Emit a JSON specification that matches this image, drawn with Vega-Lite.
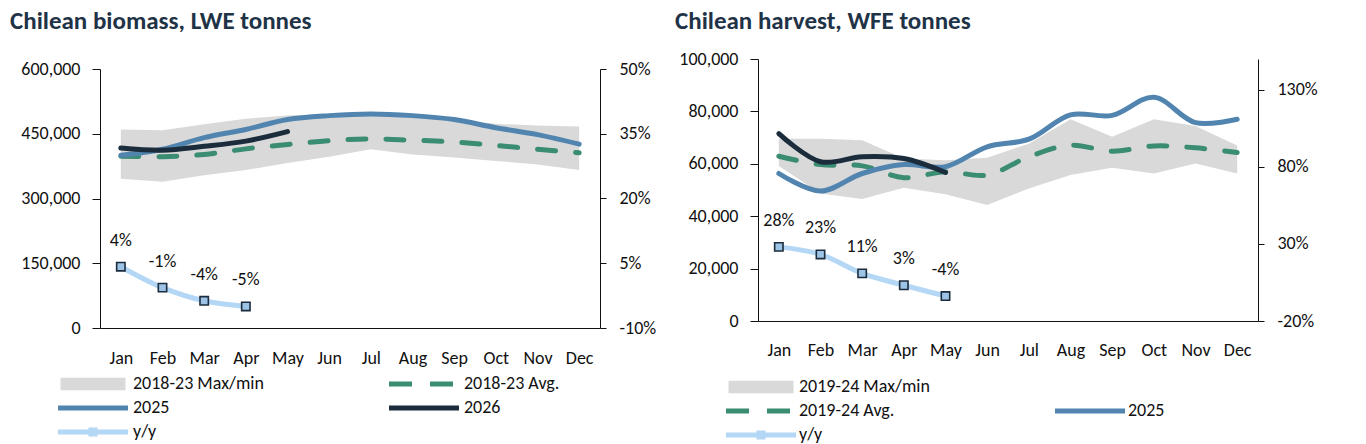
{
  "$schema": "https://vega.github.io/schema/vega-lite/v6.json",
  "padding": {"left": 10, "top": 9, "right": 0, "bottom": 0},
  "background": "white",
  "config": {
    "font": "Carlito, Lato, Liberation Sans, sans-serif",
    "view": {"stroke": null},
    "locale": {"number": {"decimal": ".", "thousands": ",", "grouping": [3], "currency": ["$", ""], "minus": "-"}},
    "axis": {"labelFont": "Carlito, Lato, Liberation Sans, sans-serif", "labelFontSize": 18, "labelColor": "#111111", "domainColor": "#111111", "tickColor": "#111111", "grid": false},
    "legend": {"labelFont": "Carlito, Lato, Liberation Sans, sans-serif", "labelFontSize": 18, "labelColor": "#111111", "padding": 0}
  },
  "hconcat": [
    {
      "width": 500,
      "height": 269,
      "title": {"text": "Chilean biomass, LWE tonnes", "anchor": "start", "frame": "group", "dx": -90, "offset": 5, "baseline": "alphabetic", "fontSize": 25, "fontWeight": "bold", "color": "#1f3347"},
      "data": {"values": [
        {"month": "Jan", "min": 346000, "max": 460000, "avg": 398000, "y2025": 400000, "y2026": 417000, "yy": 0.042},
        {"month": "Feb", "min": 339000, "max": 458000, "avg": 397000, "y2025": 414000, "y2026": 412000, "yy": -0.0065},
        {"month": "Mar", "min": 354000, "max": 472000, "avg": 402000, "y2025": 441000, "y2026": 421000, "yy": -0.037},
        {"month": "Apr", "min": 366000, "max": 485000, "avg": 415000, "y2025": 460000, "y2026": 433000, "yy": -0.05},
        {"month": "May", "min": 382000, "max": 492000, "avg": 425000, "y2025": 483000, "y2026": 455000, "yy": null},
        {"month": "Jun", "min": 397000, "max": 496000, "avg": 434000, "y2025": 492000, "y2026": null, "yy": null},
        {"month": "Jul", "min": 414000, "max": 497000, "avg": 438000, "y2025": 496000, "y2026": null, "yy": null},
        {"month": "Aug", "min": 402000, "max": 492000, "avg": 435000, "y2025": 492000, "y2026": null, "yy": null},
        {"month": "Sep", "min": 395000, "max": 483000, "avg": 431000, "y2025": 483000, "y2026": null, "yy": null},
        {"month": "Oct", "min": 387000, "max": 473000, "avg": 423000, "y2025": 464000, "y2026": null, "yy": null},
        {"month": "Nov", "min": 379000, "max": 469000, "avg": 414000, "y2025": 448000, "y2026": null, "yy": null},
        {"month": "Dec", "min": 366000, "max": 467000, "avg": 406000, "y2025": 426000, "y2026": null, "yy": null}
      ]},
      "resolve": {"scale": {"y": "independent"}},
      "layer": [
        {
          "layer": [
            {
              "mark": {"type": "area", "interpolate": "linear"},
              "encoding": {
                "x": {"field": "month", "type": "ordinal", "sort": ["Jan","Feb","Mar","Apr","May","Jun","Jul","Aug","Sep","Oct","Nov","Dec"], "scale": {"type": "point", "padding": 0.5}, "axis": {"title": null, "labelAngle": 0, "ticks": false, "tickSize": 0, "labelPadding": 21}},
                "y": {"field": "min", "type": "quantitative", "title": null, "scale": {"domain": [0, 600000], "range": [269, 10], "nice": false, "zero": false}, "axis": {"orient": "left", "values": [0, 150000, 300000, 450000, 600000], "format": ",.0f", "tickSize": 8, "labelPadding": 12}},
                "y2": {"field": "max"},
                "color": {
                  "datum": "2018-23 Max/min",
                  "scale": {"domain": ["2018-23 Max/min", "2018-23 Avg.", "2025", "2026", "y/y"], "range": ["#d9d9d9", "#3a8c72", "#5185b0", "#1b2d3c", "#b4d7f5"]},
                  "legend": {
                    "title": null, "orient": "none", "direction": "horizontal", "legendX": -42, "legendY": 315, "columns": 2, "columnPadding": 125, "rowPadding": 5,
                    "symbolSize": 400, "symbolOffset": 25, "labelOffset": 30, "labelLimit": 300, "labelFontSize": 18,
                    "symbolStrokeWidth": 0, "symbolOpacity": 1,
                    "symbolType": {"expr": "datum.value === '2018-23 Max/min' ? 'M-3.25,-0.62H3.25V0.62H-3.25Z' : datum.value === '2018-23 Avg.' ? 'M-3.5,-0.25H-1.2V0.25H-3.5Z M0.6,-0.25H2.9V0.25H0.6Z' : datum.value === 'y/y' ? 'M-3.5,-0.25H-0.45V-0.45H0.45V-0.25H3.5V0.25H0.45V0.45H-0.45V0.25H-3.5Z' : 'M-3.5,-0.24H3.5V0.24H-3.5Z'"}
                  }
                }
              }
            },
            {
              "mark": {"type": "line", "strokeWidth": 5, "strokeDash": [18, 20], "strokeCap": "round", "interpolate": "catmull-rom"},
              "encoding": {
                "x": {"field": "month", "type": "ordinal", "sort": ["Jan","Feb","Mar","Apr","May","Jun","Jul","Aug","Sep","Oct","Nov","Dec"]},
                "y": {"field": "avg", "type": "quantitative", "title": null},
                "color": {"datum": "2018-23 Avg."}
              }
            },
            {
              "mark": {"type": "line", "strokeWidth": 5, "strokeCap": "round", "interpolate": "catmull-rom"},
              "encoding": {
                "x": {"field": "month", "type": "ordinal", "sort": ["Jan","Feb","Mar","Apr","May","Jun","Jul","Aug","Sep","Oct","Nov","Dec"]},
                "y": {"field": "y2025", "type": "quantitative", "title": null},
                "color": {"datum": "2025"}
              }
            },
            {
              "mark": {"type": "line", "strokeWidth": 5, "strokeCap": "round", "interpolate": "catmull-rom"},
              "encoding": {
                "x": {"field": "month", "type": "ordinal", "sort": ["Jan","Feb","Mar","Apr","May","Jun","Jul","Aug","Sep","Oct","Nov","Dec"]},
                "y": {"field": "y2026", "type": "quantitative", "title": null},
                "color": {"datum": "2026"}
              }
            }
          ]
        },
        {
          "layer": [
            {
              "mark": {"type": "line", "strokeWidth": 5, "interpolate": "catmull-rom"},
              "encoding": {
                "x": {"field": "month", "type": "ordinal", "sort": ["Jan","Feb","Mar","Apr","May","Jun","Jul","Aug","Sep","Oct","Nov","Dec"]},
                "y": {"field": "yy", "type": "quantitative", "title": null, "scale": {"domain": [-0.1, 0.5], "range": [269, 10], "nice": false, "zero": false}, "axis": {"orient": "right", "values": [-0.1, 0.05, 0.2, 0.35, 0.5], "format": ".0%", "tickSize": 6, "labelPadding": 13}},
                "color": {"datum": "y/y"}
              }
            },
            {
              "mark": {"type": "square", "size": 70, "filled": true, "fill": "#9dc3e6", "stroke": "#1b2d3c", "strokeWidth": 1.6, "opacity": 1},
              "encoding": {
                "x": {"field": "month", "type": "ordinal", "sort": ["Jan","Feb","Mar","Apr","May","Jun","Jul","Aug","Sep","Oct","Nov","Dec"]},
                "y": {"field": "yy", "type": "quantitative", "title": null}
              }
            },
            {
              "mark": {"type": "text", "dy": -26, "fontSize": 18, "color": "#111111", "baseline": "middle"},
              "encoding": {
                "x": {"field": "month", "type": "ordinal", "sort": ["Jan","Feb","Mar","Apr","May","Jun","Jul","Aug","Sep","Oct","Nov","Dec"]},
                "y": {"field": "yy", "type": "quantitative", "title": null},
                "text": {"field": "yy", "type": "quantitative", "format": ".0%"}
              }
            }
          ]
        }
      ]
    },
    {
      "width": 500,
      "height": 262,
      "title": {"text": "Chilean harvest, WFE tonnes", "anchor": "start", "frame": "group", "dx": -83, "offset": -4, "baseline": "alphabetic", "fontSize": 25, "fontWeight": "bold", "color": "#1f3347"},
      "data": {"values": [
        {"month": "Jan", "min": 59200, "max": 69600, "avg": 62900, "y2025": 56300, "y2026": 71500, "yy": 0.281},
        {"month": "Feb", "min": 48700, "max": 69600, "avg": 59700, "y2025": 49600, "y2026": 60800, "yy": 0.232},
        {"month": "Mar", "min": 46600, "max": 69000, "avg": 59200, "y2025": 56300, "y2026": 62700, "yy": 0.109},
        {"month": "Apr", "min": 50900, "max": 62000, "avg": 54700, "y2025": 59700, "y2026": 62000, "yy": 0.032},
        {"month": "May", "min": 48400, "max": 61400, "avg": 57000, "y2025": 58900, "y2026": 56700, "yy": -0.038},
        {"month": "Jun", "min": 44300, "max": 62300, "avg": 55700, "y2025": 66500, "y2026": null, "yy": null},
        {"month": "Jul", "min": 50600, "max": 67700, "avg": 62700, "y2025": 69400, "y2026": null, "yy": null},
        {"month": "Aug", "min": 55700, "max": 77000, "avg": 67100, "y2025": 78700, "y2026": null, "yy": null},
        {"month": "Sep", "min": 58500, "max": 70300, "avg": 64800, "y2025": 78500, "y2026": null, "yy": null},
        {"month": "Oct", "min": 56300, "max": 77000, "avg": 66800, "y2025": 85400, "y2026": null, "yy": null},
        {"month": "Nov", "min": 60100, "max": 74400, "avg": 66100, "y2025": 75700, "y2026": null, "yy": null},
        {"month": "Dec", "min": 56300, "max": 67000, "avg": 64300, "y2025": 77000, "y2026": null, "yy": null}
      ]},
      "resolve": {"scale": {"y": "independent"}},
      "layer": [
        {
          "layer": [
            {
              "mark": {"type": "area", "interpolate": "linear"},
              "encoding": {
                "x": {"field": "month", "type": "ordinal", "sort": ["Jan","Feb","Mar","Apr","May","Jun","Jul","Aug","Sep","Oct","Nov","Dec"], "scale": {"type": "point", "padding": 0.5}, "axis": {"title": null, "labelAngle": 0, "ticks": false, "tickSize": 0, "labelPadding": 20}},
                "y": {"field": "min", "type": "quantitative", "title": null, "scale": {"domain": [0, 100000], "nice": false, "zero": false}, "axis": {"orient": "left", "values": [0, 20000, 40000, 60000, 80000, 100000], "format": ",.0f", "tickSize": 8, "labelPadding": 12}},
                "y2": {"field": "max"},
                "color": {
                  "datum": "2019-24 Max/min",
                  "scale": {"domain": ["2019-24 Max/min", " ", "2019-24 Avg.", "2025", "y/y"], "range": ["#d9d9d9", "#ffffff", "#3a8c72", "#5185b0", "#b4d7f5"]},
                  "legend": {
                    "title": null, "orient": "none", "direction": "horizontal", "legendX": -32, "legendY": 318, "columns": 2, "columnPadding": 125, "rowPadding": 5,
                    "symbolSize": 400, "symbolOffset": 25, "labelOffset": 28, "labelLimit": 300, "labelFontSize": 18,
                    "symbolStrokeWidth": 0, "symbolOpacity": 1,
                    "symbolType": {"expr": "datum.value === '2019-24 Max/min' ? 'M-3.25,-0.62H3.25V0.62H-3.25Z' : datum.value === '2019-24 Avg.' ? 'M-3.5,-0.25H-1.2V0.25H-3.5Z M0.6,-0.25H2.9V0.25H0.6Z' : datum.value === 'y/y' ? 'M-3.5,-0.25H-0.45V-0.45H0.45V-0.25H3.5V0.25H0.45V0.45H-0.45V0.25H-3.5Z' : 'M-3.5,-0.24H3.5V0.24H-3.5Z'"}
                  }
                }
              }
            },
            {
              "mark": {"type": "line", "strokeWidth": 5, "strokeDash": [18, 20], "strokeCap": "round", "interpolate": "catmull-rom"},
              "encoding": {
                "x": {"field": "month", "type": "ordinal", "sort": ["Jan","Feb","Mar","Apr","May","Jun","Jul","Aug","Sep","Oct","Nov","Dec"]},
                "y": {"field": "avg", "type": "quantitative", "title": null},
                "color": {"datum": "2019-24 Avg."}
              }
            },
            {
              "mark": {"type": "line", "strokeWidth": 5, "strokeCap": "round", "interpolate": "catmull-rom"},
              "encoding": {
                "x": {"field": "month", "type": "ordinal", "sort": ["Jan","Feb","Mar","Apr","May","Jun","Jul","Aug","Sep","Oct","Nov","Dec"]},
                "y": {"field": "y2025", "type": "quantitative", "title": null},
                "color": {"datum": "2025"}
              }
            },
            {
              "mark": {"type": "line", "strokeWidth": 5, "strokeCap": "round", "interpolate": "catmull-rom", "color": "#1b2d3c"},
              "encoding": {
                "x": {"field": "month", "type": "ordinal", "sort": ["Jan","Feb","Mar","Apr","May","Jun","Jul","Aug","Sep","Oct","Nov","Dec"]},
                "y": {"field": "y2026", "type": "quantitative", "title": null}
              }
            }
          ]
        },
        {
          "layer": [
            {
              "mark": {"type": "line", "strokeWidth": 5, "interpolate": "catmull-rom"},
              "encoding": {
                "x": {"field": "month", "type": "ordinal", "sort": ["Jan","Feb","Mar","Apr","May","Jun","Jul","Aug","Sep","Oct","Nov","Dec"]},
                "y": {"field": "yy", "type": "quantitative", "title": null, "scale": {"domain": [-0.2, 1.5], "nice": false, "zero": false}, "axis": {"orient": "right", "values": [-0.2, 0.3, 0.8, 1.3], "format": ".0%", "tickSize": 6, "labelPadding": 13}},
                "color": {"datum": "y/y"}
              }
            },
            {
              "mark": {"type": "square", "size": 70, "filled": true, "fill": "#9dc3e6", "stroke": "#1b2d3c", "strokeWidth": 1.6, "opacity": 1},
              "encoding": {
                "x": {"field": "month", "type": "ordinal", "sort": ["Jan","Feb","Mar","Apr","May","Jun","Jul","Aug","Sep","Oct","Nov","Dec"]},
                "y": {"field": "yy", "type": "quantitative", "title": null}
              }
            },
            {
              "mark": {"type": "text", "dy": -26, "fontSize": 18, "color": "#111111", "baseline": "middle"},
              "encoding": {
                "x": {"field": "month", "type": "ordinal", "sort": ["Jan","Feb","Mar","Apr","May","Jun","Jul","Aug","Sep","Oct","Nov","Dec"]},
                "y": {"field": "yy", "type": "quantitative", "title": null},
                "text": {"field": "yy", "type": "quantitative", "format": ".0%"}
              }
            }
          ]
        }
      ]
    }
  ],
  "spacing": 158,
  "bounds": "flush",
  "resolve": {"scale": {"color": "independent", "x": "independent", "y": "independent"}, "legend": {"color": "independent"}}
}
